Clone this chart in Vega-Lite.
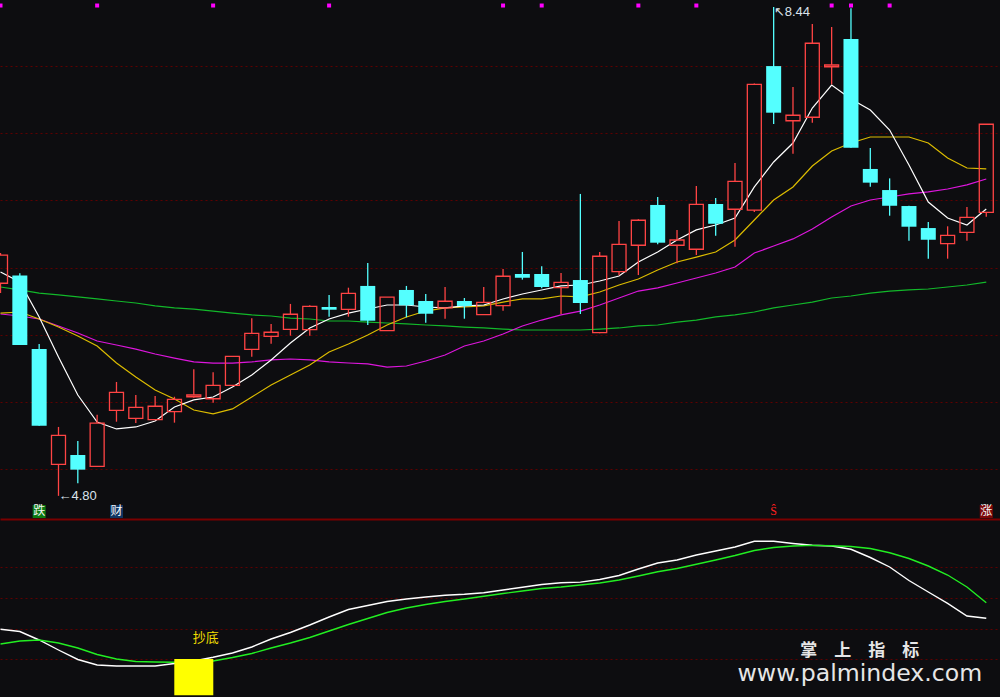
{
  "$schema": "https://vega.github.io/schema/vega-lite/v6.json",
  "background": "#0d0d10",
  "padding": 0,
  "spacing": 0,
  "bounds": "flush",
  "config": {
    "view": {"stroke": null},
    "axis": {"minExtent": 0, "maxExtent": 0, "labels": false, "ticks": false, "domain": false, "title": null, "grid": false}
  },
  "datasets": {
    "k": [
      {"i":0,"o":6.383,"h":6.608,"l":6.31,"c":6.593,"ma5":6.467,"ma10":6.161,"ma20":6.154,"ma60":6.355,"w":39.57,"g":29.98},
      {"i":1,"o":6.44,"h":6.457,"l":5.923,"c":5.923,"ma5":6.392,"ma10":6.169,"ma20":6.139,"ma60":6.333,"w":38.14,"g":31.94},
      {"i":2,"o":5.893,"h":5.931,"l":5.322,"c":5.322,"ma5":6.132,"ma10":6.117,"ma20":6.117,"ma60":6.31,"w":32.59,"g":32.59},
      {"i":3,"o":5.035,"h":5.313,"l":4.8,"c":5.251,"ma5":5.834,"ma10":6.057,"ma20":6.065,"ma60":6.296,"w":26.07,"g":30.64},
      {"i":4,"o":5.104,"h":5.208,"l":4.893,"c":4.995,"ma5":5.551,"ma10":5.99,"ma20":6.013,"ma60":6.281,"w":19.88,"g":27.38},
      {"i":5,"o":5.02,"h":5.404,"l":5.02,"c":5.342,"ma5":5.35,"ma10":5.916,"ma20":5.953,"ma60":6.266,"w":16.29,"g":23.14},
      {"i":6,"o":5.437,"h":5.648,"l":5.352,"c":5.571,"ma5":5.298,"ma10":5.789,"ma20":5.923,"ma60":6.251,"w":15.64,"g":20.2},
      {"i":7,"o":5.377,"h":5.551,"l":5.342,"c":5.459,"ma5":5.313,"ma10":5.685,"ma20":5.893,"ma60":6.236,"w":15.64,"g":18.57},
      {"i":8,"o":5.367,"h":5.543,"l":5.367,"c":5.467,"ma5":5.357,"ma10":5.588,"ma20":5.856,"ma60":6.214,"w":15.64,"g":18.25},
      {"i":9,"o":5.427,"h":5.538,"l":5.345,"c":5.519,"ma5":5.462,"ma10":5.521,"ma20":5.826,"ma60":6.199,"w":17.27,"g":18.05},
      {"i":10,"o":5.538,"h":5.742,"l":5.53,"c":5.551,"ma5":5.514,"ma10":5.439,"ma20":5.797,"ma60":6.191,"w":18.9,"g":18.25},
      {"i":11,"o":5.523,"h":5.72,"l":5.494,"c":5.623,"ma5":5.536,"ma10":5.41,"ma20":5.789,"ma60":6.176,"w":21.31,"g":18.9},
      {"i":12,"o":5.623,"h":5.839,"l":5.623,"c":5.839,"ma5":5.61,"ma10":5.447,"ma20":5.789,"ma60":6.161,"w":24.12,"g":21.18},
      {"i":13,"o":5.891,"h":6.122,"l":5.836,"c":6.01,"ma5":5.7,"ma10":5.536,"ma20":5.797,"ma60":6.147,"w":28.03,"g":23.79},
      {"i":14,"o":5.988,"h":6.08,"l":5.933,"c":6.018,"ma5":5.812,"ma10":5.625,"ma20":5.812,"ma60":6.139,"w":33.24,"g":27.38},
      {"i":15,"o":6.04,"h":6.229,"l":5.993,"c":6.152,"ma5":5.938,"ma10":5.7,"ma20":5.819,"ma60":6.124,"w":37.48,"g":30.64},
      {"i":16,"o":6.037,"h":6.22,"l":5.993,"c":6.211,"ma5":6.05,"ma10":5.774,"ma20":5.812,"ma60":6.117,"w":42.37,"g":34.22},
      {"i":17,"o":6.206,"h":6.296,"l":6.134,"c":6.186,"ma5":6.117,"ma10":5.871,"ma20":5.797,"ma60":6.102,"w":47.59,"g":38.46},
      {"i":18,"o":6.189,"h":6.35,"l":6.134,"c":6.308,"ma5":6.161,"ma10":5.931,"ma20":5.789,"ma60":6.102,"w":52.48,"g":42.7},
      {"i":19,"o":6.363,"h":6.534,"l":6.072,"c":6.104,"ma5":6.191,"ma10":5.998,"ma20":5.782,"ma60":6.094,"w":55.09,"g":46.61},
      {"i":20,"o":6.03,"h":6.279,"l":6.03,"c":6.279,"ma5":6.221,"ma10":6.072,"ma20":5.759,"ma60":6.087,"w":57.7,"g":50.53},
      {"i":21,"o":6.333,"h":6.363,"l":6.129,"c":6.219,"ma5":6.221,"ma10":6.132,"ma20":5.767,"ma60":6.08,"w":59.33,"g":53.46},
      {"i":22,"o":6.251,"h":6.303,"l":6.089,"c":6.156,"ma5":6.206,"ma10":6.176,"ma20":5.804,"ma60":6.072,"w":60.63,"g":55.74},
      {"i":23,"o":6.199,"h":6.355,"l":6.119,"c":6.249,"ma5":6.199,"ma10":6.199,"ma20":5.849,"ma60":6.065,"w":61.74,"g":57.7},
      {"i":24,"o":6.251,"h":6.273,"l":6.119,"c":6.214,"ma5":6.214,"ma10":6.206,"ma20":5.916,"ma60":6.057,"w":62.39,"g":59.33},
      {"i":25,"o":6.149,"h":6.355,"l":6.149,"c":6.241,"ma5":6.221,"ma10":6.214,"ma20":5.953,"ma60":6.05,"w":63.44,"g":61.09},
      {"i":26,"o":6.216,"h":6.489,"l":6.179,"c":6.435,"ma5":6.266,"ma10":6.243,"ma20":6.005,"ma60":6.042,"w":65.2,"g":62.91},
      {"i":27,"o":6.452,"h":6.616,"l":6.41,"c":6.424,"ma5":6.303,"ma10":6.266,"ma20":6.065,"ma60":6.035,"w":66.96,"g":64.55},
      {"i":28,"o":6.452,"h":6.509,"l":6.345,"c":6.355,"ma5":6.333,"ma10":6.266,"ma20":6.109,"ma60":6.035,"w":68.78,"g":66.18},
      {"i":29,"o":6.35,"h":6.459,"l":6.154,"c":6.39,"ma5":6.363,"ma10":6.288,"ma20":6.147,"ma60":6.035,"w":69.89,"g":67.15},
      {"i":30,"o":6.407,"h":7.048,"l":6.154,"c":6.236,"ma5":6.37,"ma10":6.281,"ma20":6.176,"ma60":6.035,"w":70.35,"g":68.46},
      {"i":31,"o":6.015,"h":6.616,"l":6.01,"c":6.584,"ma5":6.4,"ma10":6.318,"ma20":6.221,"ma60":6.042,"w":72.04,"g":69.76},
      {"i":32,"o":6.469,"h":6.847,"l":6.442,"c":6.673,"ma5":6.437,"ma10":6.37,"ma20":6.273,"ma60":6.05,"w":74.65,"g":71.72},
      {"i":33,"o":6.666,"h":6.86,"l":6.444,"c":6.852,"ma5":6.541,"ma10":6.415,"ma20":6.325,"ma60":6.065,"w":78.89,"g":74.33},
      {"i":34,"o":6.966,"h":7.025,"l":6.673,"c":6.685,"ma5":6.616,"ma10":6.482,"ma20":6.348,"ma60":6.072,"w":82.8,"g":77.13},
      {"i":35,"o":6.666,"h":6.78,"l":6.532,"c":6.705,"ma5":6.705,"ma10":6.541,"ma20":6.385,"ma60":6.094,"w":84.76,"g":79.22},
      {"i":36,"o":6.636,"h":7.107,"l":6.593,"c":6.971,"ma5":6.78,"ma10":6.578,"ma20":6.422,"ma60":6.109,"w":88.02,"g":81.96},
      {"i":37,"o":6.973,"h":7.018,"l":6.737,"c":6.826,"ma5":6.817,"ma10":6.616,"ma20":6.459,"ma60":6.132,"w":90.63,"g":84.76},
      {"i":38,"o":6.934,"h":7.278,"l":6.655,"c":7.142,"ma5":6.869,"ma10":6.705,"ma20":6.504,"ma60":6.147,"w":93.24,"g":87.69},
      {"i":39,"o":6.928,"h":7.87,"l":6.914,"c":7.864,"ma5":7.1,"ma10":6.854,"ma20":6.608,"ma60":6.169,"w":96.95,"g":90.96},
      {"i":40,"o":8.0,"h":8.44,"l":7.569,"c":7.653,"ma5":7.286,"ma10":7.003,"ma20":6.66,"ma60":6.199,"w":96.95,"g":92.91},
      {"i":41,"o":7.593,"h":7.844,"l":7.348,"c":7.634,"ma5":7.427,"ma10":7.1,"ma20":6.713,"ma60":6.221,"w":95.52,"g":93.89},
      {"i":42,"o":7.619,"h":8.313,"l":7.578,"c":8.17,"ma5":7.688,"ma10":7.256,"ma20":6.787,"ma60":6.243,"w":94.35,"g":94.28},
      {"i":43,"o":7.995,"h":8.291,"l":7.864,"c":8.008,"ma5":7.859,"ma10":7.368,"ma20":6.876,"ma60":6.273,"w":93.89,"g":94.09},
      {"i":44,"o":8.202,"h":8.43,"l":7.392,"c":7.392,"ma5":7.755,"ma10":7.427,"ma20":6.958,"ma60":6.288,"w":91.74,"g":93.56},
      {"i":45,"o":7.234,"h":7.39,"l":7.102,"c":7.132,"ma5":7.673,"ma10":7.472,"ma20":7.003,"ma60":6.31,"w":86.39,"g":92.26},
      {"i":46,"o":7.077,"h":7.164,"l":6.886,"c":6.96,"ma5":7.524,"ma10":7.472,"ma20":7.025,"ma60":6.325,"w":80.2,"g":89.46},
      {"i":47,"o":6.958,"h":6.96,"l":6.7,"c":6.804,"ma5":7.264,"ma10":7.472,"ma20":7.048,"ma60":6.333,"w":71.39,"g":85.74},
      {"i":48,"o":6.794,"h":6.839,"l":6.566,"c":6.707,"ma5":6.988,"ma10":7.427,"ma20":7.063,"ma60":6.34,"w":63.89,"g":80.85},
      {"i":49,"o":6.678,"h":6.807,"l":6.566,"c":6.74,"ma5":6.869,"ma10":7.316,"ma20":7.085,"ma60":6.355,"w":56.52,"g":74.98},
      {"i":50,"o":6.762,"h":6.951,"l":6.7,"c":6.874,"ma5":6.817,"ma10":7.241,"ma20":7.115,"ma60":6.37,"w":48.24,"g":67.15},
      {"i":51,"o":6.911,"h":7.567,"l":6.879,"c":7.567,"ma5":6.936,"ma10":7.234,"ma20":7.159,"ma60":6.392,"w":46.74,"g":56.92}
    ],
    "dots": [{"i":0},{"i":5},{"i":11},{"i":17},{"i":26},{"i":28},{"i":33},{"i":36},{"i":43},{"i":44},{"i":46}],
    "signals": [{"i":2,"t":"跌"},{"i":6,"t":"财"},{"i":40,"t":"Ŝ"},{"i":51,"t":"涨"}]
  },
  "vconcat": [
    {
      "width": 1000,
      "height": 519,
      "encoding": {
        "x": {"field": "i", "type": "quantitative", "scale": {"domain": [-0.026, 51.71], "nice": false, "zero": false, "padding": 0},
              "axis": {"domain": true, "domainColor": "#7a0000", "domainWidth": 2}}
      },
      "layer": [
        {
          "data": {"name": "k"},
          "mark": {"type": "line", "color": "#12b82a", "strokeWidth": 1.2, "clip": true},
          "encoding": {"y": {"field": "ma60", "type": "quantitative",
            "scale": {"domain": [4.6276, 8.4921], "nice": false, "zero": false, "padding": 0},
            "axis": {"values": [5, 5.5, 6, 6.5, 7, 7.5, 8], "grid": true, "gridColor": "#5e0000", "gridDash": [2, 3], "gridWidth": 1}}}
        },
        {
          "data": {"name": "k"},
          "mark": {"type": "line", "color": "#dd16dd", "strokeWidth": 1.2, "clip": true},
          "encoding": {"y": {"field": "ma20", "type": "quantitative"}}
        },
        {
          "data": {"name": "k"},
          "mark": {"type": "line", "color": "#dcbc00", "strokeWidth": 1.2, "clip": true},
          "encoding": {"y": {"field": "ma10", "type": "quantitative"}}
        },
        {
          "data": {"name": "k"},
          "mark": {"type": "line", "color": "#ffffff", "strokeWidth": 1.2, "clip": true},
          "encoding": {"y": {"field": "ma5", "type": "quantitative"}}
        },
        {
          "data": {"name": "k"},
          "transform": [{"filter": "datum.c < datum.o"}],
          "mark": {"type": "rule", "color": "#54ffff", "strokeWidth": 1.3, "clip": true},
          "encoding": {"y": {"field": "l", "type": "quantitative"}, "y2": {"field": "h"}}
        },
        {
          "data": {"name": "k"},
          "transform": [{"filter": "datum.c < datum.o"}],
          "mark": {"type": "bar", "color": "#54ffff", "size": 15, "clip": true},
          "encoding": {"y": {"field": "o", "type": "quantitative"}, "y2": {"field": "c"}}
        },
        {
          "data": {"name": "k"},
          "transform": [{"filter": "datum.c >= datum.o"}],
          "mark": {"type": "rule", "color": "#ff4444", "strokeWidth": 1.3, "clip": true},
          "encoding": {"y": {"field": "c", "type": "quantitative"}, "y2": {"field": "h"}}
        },
        {
          "data": {"name": "k"},
          "transform": [{"filter": "datum.c >= datum.o"}],
          "mark": {"type": "rule", "color": "#ff4444", "strokeWidth": 1.3, "clip": true},
          "encoding": {"y": {"field": "l", "type": "quantitative"}, "y2": {"field": "o"}}
        },
        {
          "data": {"name": "k"},
          "transform": [{"filter": "datum.c >= datum.o"}],
          "mark": {"type": "bar", "fill": "transparent", "stroke": "#ff4444", "strokeWidth": 1.3, "size": 14, "clip": true},
          "encoding": {"y": {"field": "o", "type": "quantitative"}, "y2": {"field": "c"}}
        },
        {
          "data": {"name": "dots"},
          "mark": {"type": "point", "shape": "square", "filled": true, "color": "#ff00ff", "size": 16, "opacity": 1, "clip": true},
          "encoding": {"y": {"datum": 8.451, "type": "quantitative"}}
        },
        {
          "data": {"name": "signals"},
          "transform": [{"filter": "datum.t != 'Ŝ'"}],
          "mark": {"type": "point", "shape": "square", "filled": true, "size": 169, "opacity": 1, "strokeWidth": 0, "clip": true},
          "encoding": {
            "y": {"datum": 4.6835, "type": "quantitative"},
            "color": {"field": "t", "type": "nominal", "scale": {"domain": ["跌", "财", "涨"], "range": ["#0a7a12", "#0f3563", "#7c0808"]}, "legend": null}
          }
        },
        {
          "data": {"name": "signals"},
          "mark": {"type": "text", "font": "Noto Sans CJK SC", "fontSize": 12, "baseline": "middle", "align": "center", "clip": true},
          "encoding": {
            "y": {"datum": 4.6835, "type": "quantitative"},
            "text": {"field": "t"},
            "color": {"condition": {"test": "datum.t == 'Ŝ'", "value": "#ff2020"}, "value": "#f4f4f4"}
          }
        },
        {
          "data": {"values": [{"i": 3, "p": 4.8, "t": "←4.80"}]},
          "mark": {"type": "text", "font": "Liberation Sans", "fontSize": 13, "align": "left", "baseline": "middle", "dx": 0, "color": "#dbe3ec"},
          "encoding": {"y": {"field": "p", "type": "quantitative"}, "text": {"field": "t"}}
        },
        {
          "data": {"values": [{"i": 40, "p": 8.44, "t": "↖8.44"}]},
          "mark": {"type": "text", "font": "Liberation Sans", "fontSize": 13, "align": "left", "baseline": "middle", "dx": 0, "dy": 5, "color": "#dbe3ec"},
          "encoding": {"y": {"field": "p", "type": "quantitative"}, "text": {"field": "t"}}
        }
      ]
    },
    {
      "width": 1000,
      "height": 178,
      "encoding": {
        "x": {"field": "i", "type": "quantitative", "scale": {"domain": [-0.026, 51.71], "nice": false, "zero": false, "padding": 0}, "axis": null}
      },
      "layer": [
        {
          "data": {"name": "k"},
          "mark": {"type": "line", "color": "#ffffff", "strokeWidth": 1.4, "clip": true},
          "encoding": {"y": {"field": "w", "type": "quantitative",
            "scale": {"domain": [-4.58, 111.5], "nice": false, "zero": false, "padding": 0},
            "axis": {"values": [20, 40, 60, 80], "grid": true, "gridColor": "#5e0000", "gridDash": [2, 3], "gridWidth": 1}}}
        },
        {
          "data": {"name": "k"},
          "mark": {"type": "line", "color": "#22ee22", "strokeWidth": 1.4, "clip": true},
          "encoding": {"y": {"field": "g", "type": "quantitative"}}
        },
        {
          "data": {"values": [{"i": 10, "sig": 20.2, "t": "抄底"}]},
          "mark": {"type": "bar", "color": "#ffff00", "size": 39, "clip": true},
          "encoding": {"y": {"field": "sig", "type": "quantitative"}, "y2": {"datum": -3.5}}
        },
        {
          "data": {"values": [{"i": 10, "sig": 20.2, "t": "抄底"}]},
          "mark": {"type": "text", "font": "Noto Sans CJK SC", "fontSize": 13, "color": "#eedd00", "align": "center", "baseline": "middle", "dx": 12, "dy": -21},
          "encoding": {"y": {"field": "sig", "type": "quantitative"}, "text": {"field": "t"}}
        },
        {
          "data": {"values": [{"i": 44.46, "v": 25.3, "t": "掌　上　指　标"}]},
          "mark": {"type": "text", "font": "Noto Sans CJK SC", "fontWeight": "bold", "fontSize": 17, "color": "#e6e6e6", "align": "center", "baseline": "middle"},
          "encoding": {"y": {"field": "v", "type": "quantitative"}, "text": {"field": "t"}}
        },
        {
          "data": {"values": [{"i": 44.46, "v": 5.85, "t": "www.palmindex.com"}]},
          "mark": {"type": "text", "font": "DejaVu Sans", "fontSize": 23.6, "color": "#e6e6e6", "align": "center", "baseline": "alphabetic"},
          "encoding": {"y": {"field": "v", "type": "quantitative"}, "text": {"field": "t"}}
        }
      ]
    }
  ]
}
